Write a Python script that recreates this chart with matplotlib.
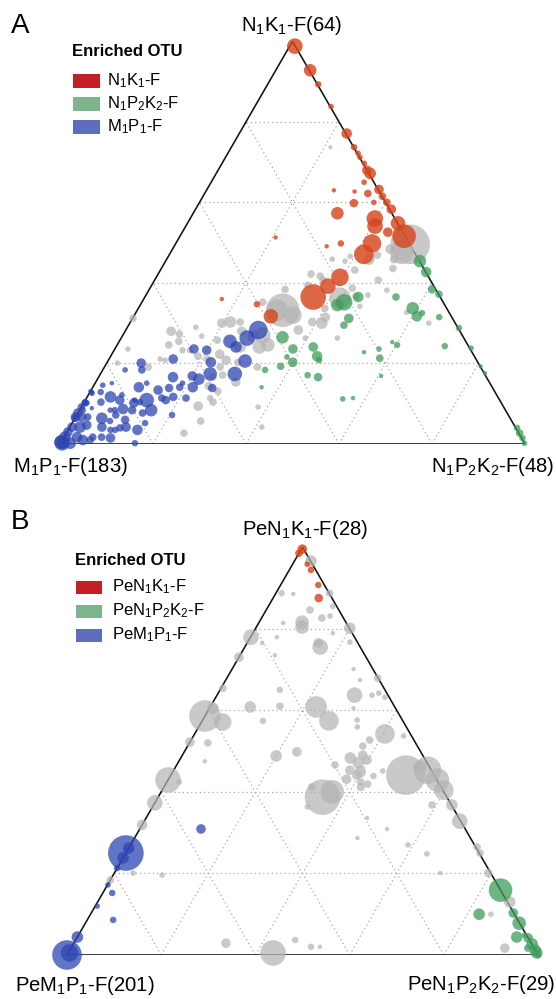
import numpy as np
import matplotlib
matplotlib.use('Agg')
import matplotlib.pyplot as plt
from matplotlib.patches import Rectangle

plt.rcParams['font.family'] = ['Liberation Sans', 'DejaVu Sans']
plt.rcParams['mathtext.fontset'] = 'custom'
plt.rcParams['mathtext.rm'] = 'Liberation Sans'
plt.rcParams['mathtext.it'] = 'Liberation Sans'
plt.rcParams['mathtext.default'] = 'regular'

# ---------------- data: (top %, right %, relative abundance) ----------------
# Panel A: top = N1K1-F, right = N1P2K2-F, left = M1P1-F
A_LABELS = ['N$_1$K$_1$-F(64)', 'N$_1$P$_2$K$_2$-F(48)', 'M$_1$P$_1$-F(183)']
A_LEGEND = ['N$_1$K$_1$-F', 'N$_1$P$_2$K$_2$-F', 'M$_1$P$_1$-F']
A_RED = [(98.8,1.1,49),(92.8,7.4,30),(89.3,10.9,6),(83.8,16.4,4),(77.1,23.1,20),(73.7,26.4,6),
         (72.2,28.0,4),(71.2,28.9,4),(69.7,30.6,4),(67.2,33.1,25),(68.0,32.0,16),(65.0,32.9,4),
         (62.7,32.0,2),(63.0,27.4,2),(63.2,37.0,16),(62.2,35.1,9),(61.5,38.6,9),(60.0,37.5,4),
         (60.0,40.3,9),(58.3,42.1,16),(59.8,33.3,12),(57.3,31.0,30),(56.0,39.7,56),(54.1,40.7,49),
         (54.8,45.3,42),(51.6,48.2,121),(52.6,44.2,16),(49.8,42.2,72),(47.1,41.8,81),(49.8,35.5,6),
         (49.1,32.8,2),(51.3,20.7,2),(41.4,39.5,64),(39.2,38.0,49),(36.5,36.2,144),(31.7,29.5,42),
         (34.7,25.0,6),(36.0,16.8,2)]
A_GREEN = [(45.4,54.7,30),(42.7,57.4,20),(38.4,60.8,12),(37.2,62.9,9),(36.5,54.0,9),(36.5,45.9,20),
           (35.2,43.5,56),(34.5,42.4,30),(31.2,46.5,16),(29.5,46.3,9),(33.7,59.0,30),(31.7,60.9,20),
           (32.5,61.6,6),(31.5,65.8,6),(28.8,71.4,6),(24.3,70.6,6),(24.6,60.2,6),(25.3,58.8,2),
           (23.6,56.8,4),(21.3,58.1,9),(22.8,54.0,2),(16.9,60.6,2),(24.1,42.4,16),(23.6,38.3,16),
           (20.3,39.9,16),(26.5,34.6,30),(21.6,38.0,4),(19.3,37.8,9),(21.8,44.4,20),(20.8,45.3,6),
           (17.1,44.7,6),(16.6,47.2,12),(14.1,36.3,2),(18.4,34.9,6),(11.2,55.2,4),(11.4,57.3,2),
           (23.8,76.5,4),(19.3,80.8,2),(17.6,82.6,2),(4.0,96.3,6),(2.7,97.5,9),(1.5,98.7,6),(0.2,99.8,4)]
A_BLUE = [(28.3,28.5,72),(26.3,27.1,49),(25.5,23.8,36),(24.1,25.8,25),(20.6,29.5,36),(17.4,28.9,42),
          (17.4,23.6,36),(20.3,22.3,20),(23.3,19.9,16),(16.1,21.8,25),(16.9,20.0,16),(14.1,21.5,20),
          (13.9,25.8,12),(21.1,13.8,16),(16.6,16.0,20),(14.1,18.7,9),(11.4,21.4,9),(13.9,16.5,12),
          (11.7,18.5,12),(10.9,17.3,12),(11.4,16.2,9),(13.4,14.4,16),(7.2,20.5,6),(8.4,15.4,30),
          (10.9,13.2,42),(14.1,9.9,20),(20.1,7.4,16),(18.4,8.4,9),(10.2,10.8,16),(3.5,14.9,20),
          (5.2,15.7,6),(0.2,16.0,6),(18.4,4.8,4),(15.1,11.1,4),(11.7,5.0,25),(12.9,2.3,6),
          (12.6,0.6,4),(15.1,3.6,2),(12.2,7.2,4),(10.9,7.4,16),(10.9,10.6,4),(10.4,12.0,6),
          (7.7,13.9,9),(8.4,11.3,12),(8.7,9.2,20),(8.4,7.6,6),(8.4,6.6,4),(10.4,3.6,9),
          (10.2,0.3,9),(8.9,2.4,2),(6.4,5.8,25),(4.2,6.9,16),(5.7,7.9,6),(7.2,8.4,9),
          (6.0,11.0,12),(4.2,12.1,16),(4.0,10.9,9),(3.5,10.1,6),(3.5,9.1,6),(1.5,10.1,16),
          (1.7,8.1,9),(1.7,6.2,9),(1.0,6.0,9),(1.0,4.4,20),(1.7,2.8,20),(4.2,2.2,25),
          (4.7,3.4,16),(6.7,2.6,9),(6.7,1.3,16),(7.7,0.0,16),(6.4,0.0,9),(4.2,0.5,16),
          (3.0,0.2,16),(1.7,0.2,25),(0.5,0.0,36),(0.2,0.5,25),(0.2,2.1,25),(8.4,0.7,6),
          (10.2,0.7,4),(12.9,0.3,4),(14.6,1.9,4),(13.1,0.0,2),(9.2,0.0,9),(6.7,0.0,16),
          (10.4,0.2,6),(23.6,17.0,16),(15.1,18.8,4),(0.3,0.3,49)]
A_GRAY = [(49.6,50.5,361),(47.6,49.7,121),(48.4,46.8,16),(45.9,48.9,12),(43.6,49.8,9),(45.9,43.5,25),
          (46.9,44.8,9),(46.6,39.1,4),(45.4,38.6,4),(45.9,35.6,4),(43.2,41.8,9),(40.7,48.1,9),
          (42.2,32.9,9),(41.7,35.1,9),(40.7,36.2,9),(38.4,29.2,9),(33.2,31.3,256),(36.2,42.1,100),
          (38.7,43.5,9),(36.7,45.3,9),(34.2,47.4,4),(37.0,47.7,4),(33.7,40.1,9),(31.5,41.3,16),
          (30.3,39.1,12),(30.0,41.3,25),(28.3,37.1,16),(39.4,33.6,9),(32.7,58.2,4),(30.0,64.3,4),
          (35.2,26.0,9),(32.0,34.1,64),(30.3,21.5,25),(30.0,19.8,16),(30.3,23.6,9),(28.0,25.1,16),
          (24.1,30.8,36),(27.0,30.1,49),(26.8,28.1,25),(24.6,32.4,36),(24.1,26.7,25),(22.3,23.2,16),
          (25.8,20.9,9),(26.8,17.1,4),(29.0,14.7,4),(28.0,9.9,16),(27.3,12.0,9),(25.5,12.8,9),
          (24.6,11.1,9),(23.3,14.7,6),(23.3,16.3,6),(21.8,18.8,9),(21.1,21.1,9),(20.8,25.3,16),
          (19.1,24.9,9),(17.1,26.4,9),(20.3,28.1,9),(15.4,30.1,16),(19.1,32.9,9),(13.1,27.4,9),
          (11.4,26.6,6),(10.4,27.7,9),(9.4,25.0,16),(5.7,27.4,9),(2.7,25.3,9),(20.8,12.2,4),
          (21.1,11.0,4),(19.1,9.4,9),(9.2,38.0,4),(4.2,41.3,4),(31.2,0.1,9),(23.6,2.8,4),
          (20.1,2.3,4),(14.4,24.8,12),(16.6,24.6,9),(38.2,51.2,4),(26.3,46.5,4),(26.3,39.6,4),
          (73.7,21.3,1.5),(33.2,30.1,100)]

# Panel B: top = PeN1K1-F, right = PeN1P2K2-F, left = PeM1P1-F
B_LABELS = ['PeN$_1$K$_1$-F(28)', 'PeN$_1$P$_2$K$_2$-F(29)', 'PeM$_1$P$_1$-F(201)']
B_LEGEND = ['PeN$_1$K$_1$-F', 'PeN$_1$P$_2$K$_2$-F', 'PeM$_1$P$_1$-F']
B_RED = [(99.5,0.2,16),(98.5,0.0,9),(95.8,3.1,4),(94.4,4.6,6),(90.7,8.0,6),(87.5,9.7,12)]
B_GREEN = [(15.9,84.1,121),(10.0,82.5,25),(10.3,89.6,16),(7.8,92.1,36),(4.4,93.3,25),(4.2,95.8,16),
           (2.7,97.4,25),(1.2,98.8,25),(0.5,99.5,25),(1.7,97.0,9),(4.9,94.7,4),(0.0,100.0,6)]
B_BLUE = [(25.0,0.0,289),(26.2,0.0,25),(23.8,0.0,25),(30.9,13.0,16),(21.3,0.0,6),(17.2,0.1,4),
          (15.2,2.0,6),(12.0,0.4,4),(8.6,5.5,6),(4.4,0.0,25),(0.0,0.0,196),(0.5,0.3,64)]
B_GRAY = [(44.1,49.9,361),(45.3,53.9,169),(42.9,57.2,121),(40.4,59.8,81),(46.1,51.9,36),(36.8,63.3,25),
          (32.8,67.0,49),(36.8,59.1,9),(25.0,75.2,9),(20.1,79.4,12),(13.0,87.5,25),(1.7,92.1,16),
          (38.7,34.9,289),(40.0,36.3,121),(60.8,22.5,100),(57.4,26.9,81),(63.7,29.2,49),(54.2,40.4,81),
          (52.7,37.9,9),(51.2,37.2,9),(57.6,32.8,4),(55.9,33.7,4),(48.3,36.0,25),(47.1,38.3,25),
          (49.0,38.3,16),(47.8,39.8,16),(45.3,37.4,16),(44.9,39.8,25),(43.1,37.8,16),(44.1,39.5,16),
          (42.4,41.2,9),(41.2,41.8,12),(41.9,42.9,9),(43.9,43.1,6),(45.1,44.5,4),(46.6,33.6,9),
          (41.2,31.4,9),(36.3,32.9,4),(49.8,23.9,16),(48.8,20.0,25),(76.5,15.1,16),(76.7,21.7,4),
          (70.1,25.8,2),(67.9,32.0,9),(63.7,32.9,4),(64.2,34.1,4),(63.2,35.9,4),(3.7,46.6,6),
          (2.0,50.8,6),(2.0,52.7,2),(0.5,43.5,144),(27.0,58.9,4),(24.8,64.0,4),(30.9,52.5,2),
          (28.7,47.3,2),(20.1,69.2,2),(10.0,85.0,4),(26.5,73.8,9),(58.6,0.0,225),(60.5,0.7,25),
          (57.1,4.5,64),(60.8,8.5,25),(61.0,14.7,9),(57.4,12.9,6),(52.0,3.9,9),(52.2,0.0,16),
          (47.5,5.5,2),(77.9,0.1,49),(73.0,0.0,16),(76.5,3.2,2),(65.4,0.4,9),(65.0,12.7,6),
          (96.6,3.5,25),(88.7,1.2,6),(88.5,3.8,2),(84.6,9.3,9),(82.6,12.8,9),(83.1,14.3,4),
          (85.5,13.7,4),(88.7,11.4,9),(81.6,9.1,36),(80.4,9.7,36),(75.5,16.0,49),(80.1,20.0,25),
          (78.9,17.0,2),(77.9,5.6,2),(81.4,5.2,2),(73.5,7.4,2),(42.9,0.0,144),(42.4,2.6,4),
          (37.3,0.0,49),(31.9,0.0,20),(20.1,4.0,4),(19.6,10.4,4),(18.4,0.0,9),(2.9,32.3,16),
          (53.7,44.6,4),(33.6,46.9,2),(67.4,28.5,2),(60.5,30.6,2)]

# ---------------- styling ----------------
W, H = 556, 999
SQ = np.sqrt(3) / 2
C_GRAY = '#b4b4b4'
C_RED = '#d6461d'
C_GREEN = '#3e9c5a'
C_BLUE = '#2e45b2'
LEG_COLORS = ['#c41e26', '#7db48e', '#5f6dc0']
SIZE_K = 2.07
SIZE_PAD = 0.8

fig = plt.figure(figsize=(W / 100, H / 100), dpi=100)


def fx(px):
    return px / W


def fy(py):
    return 1 - py / H


def setup(ax):
    ax.set_xlim(0, 1)
    ax.set_ylim(0, SQ)
    ax.axis('off')
    gkw = dict(color='#aaaaaa', lw=0.9, ls=(0, (1, 2.4)), zorder=1)
    for k in (0.2, 0.4, 0.6, 0.8):
        ax.plot([k / 2, 1 - k / 2], [k * SQ, k * SQ], **gkw)
        ax.plot([k, k + (1 - k) / 2], [0, (1 - k) * SQ], **gkw)
        ax.plot([1 - k, (1 - k) / 2], [0, (1 - k) * SQ], **gkw)
    ax.plot([0, 1, 0.5, 0], [0, 0, SQ, 0], color='#111111', lw=1.15, zorder=2,
            solid_joinstyle='miter')


def draw(ax, pts, color, alpha, z):
    a = np.array(pts, float)
    a = a[np.argsort(-a[:, 2])]
    top, right = a[:, 0] / 100, a[:, 1] / 100
    sizes = SIZE_K * (np.sqrt(a[:, 2]) + SIZE_PAD) ** 2
    ax.scatter(right + top / 2, top * SQ, s=sizes, c=color, alpha=alpha,
               linewidths=0, clip_on=False, zorder=z)


def panel(tri, gray, green, blue, red):
    L, R, base = tri
    w = R - L
    ax = fig.add_axes([fx(L), fy(base), w / W, w * SQ / H])
    setup(ax)
    draw(ax, gray, C_GRAY, 0.72, 3)
    draw(ax, green, C_GREEN, 0.75, 4)
    draw(ax, blue, C_BLUE, 0.75, 5)
    draw(ax, red, C_RED, 0.82, 6)
    return ax


panel((60, 525, 444), A_GRAY, A_GREEN, A_BLUE, A_RED)
panel((67, 538, 955), B_GRAY, B_GREEN, B_BLUE, B_RED)

FS = 14.6
# panel A texts
fig.text(fx(11), fy(33), 'A', fontsize=20, va='baseline')
fig.text(fx(292), fy(31), A_LABELS[0], fontsize=FS, ha='center', va='baseline')
fig.text(fx(13), fy(472), A_LABELS[2], fontsize=FS, ha='left', va='baseline')
fig.text(fx(554), fy(472), A_LABELS[1], fontsize=FS, ha='right', va='baseline')
# panel B texts
fig.text(fx(11), fy(529), 'B', fontsize=20, va='baseline')
fig.text(fx(305), fy(535), B_LABELS[0], fontsize=FS, ha='center', va='baseline')
fig.text(fx(15), fy(991), B_LABELS[2], fontsize=FS, ha='left', va='baseline')
fig.text(fx(555), fy(990), B_LABELS[1], fontsize=FS, ha='right', va='baseline')


def legend(x0, title_base, rows_y, patch_w, text_x, labels):
    fig.text(fx(x0), fy(title_base), 'Enriched OTU', fontsize=12, fontweight='bold',
             va='baseline')
    for yc, lab, col in zip(rows_y, labels, LEG_COLORS):
        fig.add_artist(Rectangle((fx(x0 + 1), fy(yc + 6.5)), patch_w / W, 13 / H,
                                 transform=fig.transFigure, facecolor=col, edgecolor='none'))
        fig.text(fx(text_x), fy(yc), lab, fontsize=12, va='center')


legend(72, 56, [81, 104, 127], 27, 107, A_LEGEND)
legend(75, 565, [587, 611, 635], 26, 112, B_LEGEND)

fig.savefig('out.png', dpi=100)
